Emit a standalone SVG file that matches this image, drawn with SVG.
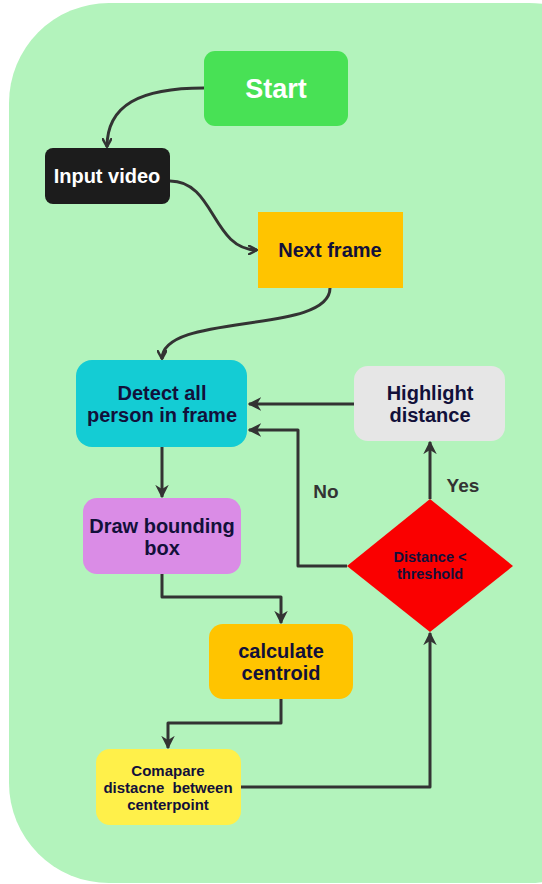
<svg xmlns="http://www.w3.org/2000/svg" width="542" height="884" viewBox="0 0 542 884">
<defs>
<style>
.lbl{font-family:"Liberation Sans",Arial,sans-serif;font-weight:bold;text-anchor:middle;fill:#12103a}
.w{fill:#ffffff}
.c{fill:none;stroke:#333333;stroke-width:3;stroke-linejoin:round}
.ca{marker-end:url(#arr)}
.co{marker-end:url(#open)}
</style>
<marker id="arr" viewBox="0 0 10 10" refX="9" refY="5" markerWidth="4.5" markerHeight="4.5" markerUnits="strokeWidth" orient="auto">
<path d="M0,0 L10,5 L0,10 L3,5 z" fill="#333333"/>
</marker>
<marker id="open" viewBox="0 0 10 10" refX="8.5" refY="5" markerWidth="3.6" markerHeight="3.6" markerUnits="strokeWidth" orient="auto">
<path d="M1,1 L8.5,5 L1,9" fill="none" stroke="#333333" stroke-width="2.2" stroke-linecap="round" stroke-linejoin="round"/>
</marker>
</defs>
<rect x="9" y="3" width="620" height="880" rx="100" ry="100" fill="#b3f3bc"/>
<g id="connectors">
<path class="c co" d="M204,88 C140,88 107,105 107,147"/>
<path class="c co" d="M170,181 C215,181 212,250 257,250"/>
<path class="c co" d="M330,288 C330,335 162,312 162,359"/>
<path class="c ca" d="M162,447 L162,497"/>
<path class="c ca" d="M162,574 L162,597 L281,597 L281,623"/>
<path class="c ca" d="M281,699 L281,723 L168,723 L168,748"/>
<path class="c ca" d="M241,787 L430,787 L430,633"/>
<path class="c ca" d="M430,499 L430,442"/>
<path class="c ca" d="M347,566 L298,566 L298,430 L249,430"/>
<path class="c ca" d="M354,404 L249,404"/>
<text class="lbl" x="326" y="498" font-size="19" style="fill:#333333">No</text>
<text class="lbl" x="463" y="492" font-size="19" style="fill:#333333">Yes</text>
</g>
<g id="start">
<rect x="204" y="51" width="144" height="75" rx="11" fill="#48e155"/>
<text class="lbl w" x="276" y="97.5" font-size="27">Start</text>
</g>
<g id="input-video">
<rect x="45" y="148" width="125" height="56" rx="8" fill="#1c1c1c"/>
<text class="lbl w" x="107" y="183" font-size="20">Input video</text>
</g>
<g id="next-frame">
<rect x="258" y="212" width="145" height="76" fill="#ffc400"/>
<text class="lbl" x="330" y="257" font-size="20">Next frame</text>
</g>
<g id="detect">
<rect x="76" y="360" width="171" height="87" rx="16" fill="#14ccd4"/>
<text class="lbl" x="162" y="400" font-size="20">Detect all</text>
<text class="lbl" x="162" y="421.5" font-size="20">person in frame</text>
</g>
<g id="highlight">
<rect x="354" y="366" width="151" height="75" rx="14" fill="#e6e6e6"/>
<text class="lbl" x="430" y="400" font-size="20">Highlight</text>
<text class="lbl" x="430" y="421.5" font-size="20">distance</text>
</g>
<g id="draw-box">
<rect x="83" y="498" width="158" height="76" rx="14" fill="#da8ce6"/>
<text class="lbl" x="162" y="533" font-size="20">Draw bounding</text>
<text class="lbl" x="162" y="555" font-size="20">box</text>
</g>
<g id="decision">
<polygon points="430,499 513,566 430,632 347,566" fill="#fa0000"/>
<text class="lbl" x="430" y="562" font-size="14.5">Distance &lt;</text>
<text class="lbl" x="430" y="579" font-size="14.5">threshold</text>
</g>
<g id="centroid">
<rect x="209" y="624" width="144" height="75" rx="14" fill="#ffc400"/>
<text class="lbl" x="281" y="658" font-size="20">calculate</text>
<text class="lbl" x="281" y="680" font-size="20">centroid</text>
</g>
<g id="compare">
<rect x="96" y="749" width="145" height="76" rx="14" fill="#fff04a"/>
<text class="lbl" x="168" y="775.5" font-size="15">Comapare</text>
<text class="lbl" x="168" y="792.5" font-size="15" xml:space="preserve">distacne  between</text>
<text class="lbl" x="168" y="809.5" font-size="15">centerpoint</text>
</g>
</svg>
